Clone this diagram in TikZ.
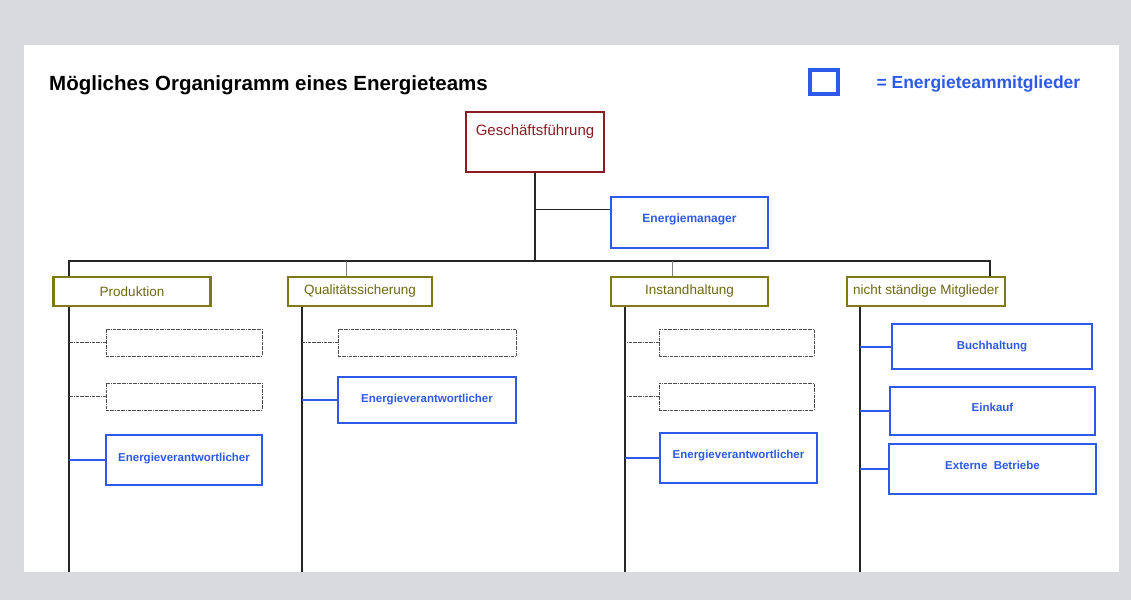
\documentclass[tikz,border=0pt]{standalone}
\usepackage{fontspec}
\setmainfont{Liberation Sans}
\definecolor{bggray}{RGB}{216,218,221}
\definecolor{darkred}{RGB}{140,28,36}
\definecolor{deptolive}{RGB}{128,122,22}
\definecolor{teamblue}{RGB}{45,90,232}

\begin{document}
\begin{tikzpicture}[x=1pt,y=-1pt,
        every node/.style={inner ysep=0pt},
        gfnode/.style={draw=darkred,line width=2pt,text=darkred,font=\fontsize{15}{18}\selectfont},
        emnode/.style={draw=teamblue,line width=2.5pt,text=teamblue,font=\bfseries\fontsize{12}{14}\selectfont},
        deptnode/.style={draw=deptolive,line width=2.5pt,text=deptolive!85!black,minimum height=29pt,font=\fontsize{13.5}{16}\selectfont},
        memnode/.style={draw=teamblue,line width=2.5pt,text=teamblue,font=\bfseries\fontsize{11.5}{14}\selectfont,text height=25pt},
        emptynode/.style={draw=black!70,densely dash dot,line width=0.7pt,minimum height=27pt},
        trunk/.style={draw=black!85,line width=1.6pt},
        tick/.style={draw=black!50,line width=1pt},
        memlink/.style={draw=teamblue,line width=2pt},
        emptylink/.style={draw=black!70,densely dash dot,line width=0.7pt}
      ]
      % the sheet
      \useasboundingbox (0,0) rectangle (1131,600);
      \fill[bggray] (0,0) rectangle (1131,600);
      \fill[white] (24,45) rectangle (1119,572);

      % title and key
      \node[anchor=base west,inner xsep=0pt,font=\bfseries\fontsize{20.5}{24}\selectfont] (title) at (49,90) {Mögliches Organigramm eines Energieteams};
      \node[draw=teamblue,line width=4pt,minimum width=28pt,minimum height=24pt] (key) at (824,82) {};
      \node[anchor=west,text=teamblue,font=\bfseries\fontsize{17.5}{20}\selectfont] (keytext) at (873,84) {= Energieteammitglieder};

      % the management
      \node[gfnode,minimum width=138pt,text height=23pt,text depth=37pt] (gf) at (535,142) {Geschäftsführung};
      \node[emnode,minimum width=157pt,text height=25pt,text depth=26pt] (em) at (689.5,222.5) {Energiemanager};

      % the departments
      \node[deptnode,minimum width=157pt] (prod) at (132,291.5) {Produktion};
      \node[deptnode,minimum width=144pt] (qs) at (360,291.5) {Qualitätssicherung};
      \node[deptnode,minimum width=157pt] (ih) at (689.5,291.5) {Instandhaltung};
      \node[deptnode,minimum width=158pt] (nsm) at (926,291.5) {nicht ständige Mitglieder};

      % the team members
      \node[memnode,minimum width=156pt,text height=26pt,text depth=24pt] (ev1) at (184,460) {Energieverantwortlicher};
      \node[memnode,minimum width=178pt,text depth=21pt] (ev2) at (427,400) {Energieverantwortlicher};
      \node[memnode,minimum width=157pt,text depth=25pt] (ev3) at (738.5,458) {Energieverantwortlicher};
      \node[memnode,minimum width=200pt,text depth=20pt] (bh) at (992,346.5) {Buchhaltung};
      \node[memnode,minimum width=205pt,text height=24pt,text depth=24pt] (ek) at (992.5,411) {Einkauf};
      \node[memnode,minimum width=207pt,text depth=25pt] (eb) at (992.5,469) {Externe\ \ Betriebe};

      % the empty places
      \foreach \n/\x/\y/\w in {p1/184/342.5/156, p2/184/396.5/156, q1/427/342.5/178, i1/736.5/342.5/155, i2/736.5/396.5/155}
        \node[emptynode,minimum width=\w pt] (e\n) at (\x,\y) {};

      % the lines
      \coordinate (busl) at (69,261);
      \coordinate (busr) at (990,261);
      \coordinate (qtop) at (346,261);
      \coordinate (itop) at (672,261);
      \coordinate (pcol) at (69,572);
      \coordinate (qcol) at (302,572);
      \coordinate (icol) at (625,572);
      \coordinate (ncol) at (860,572);
      \draw[trunk] (gf.south) -- (gf.south |- busl);
      \draw[trunk] (gf.south |- em.west) ++(0,-13) -- ([yshift=13pt]em.west);
      \draw[trunk] (prod.north -| busl) -- (busl) -- (busr) -- (nsm.north -| busr);
      \draw[tick] (qtop) -- (qtop |- qs.north);
      \draw[tick] (itop) -- (itop |- ih.north);
      \foreach \d/\c in {prod/pcol, qs/qcol, ih/icol, nsm/ncol}
        \draw[trunk] (\c |- \d.south) -- (\c);

      % the edges to the boxes
      \foreach \n/\c in {p1/pcol, p2/pcol, q1/qcol, i1/icol, i2/icol}
        \draw[emptylink] (e\n.west) -- (e\n.west -| \c);
      \foreach \m/\c in {ev1/pcol, ev2/qcol, ev3/icol, bh/ncol, ek/ncol, eb/ncol}
        \draw[memlink] (\m.west) -- (\m.west -| \c);
\end{tikzpicture}
\end{document}
